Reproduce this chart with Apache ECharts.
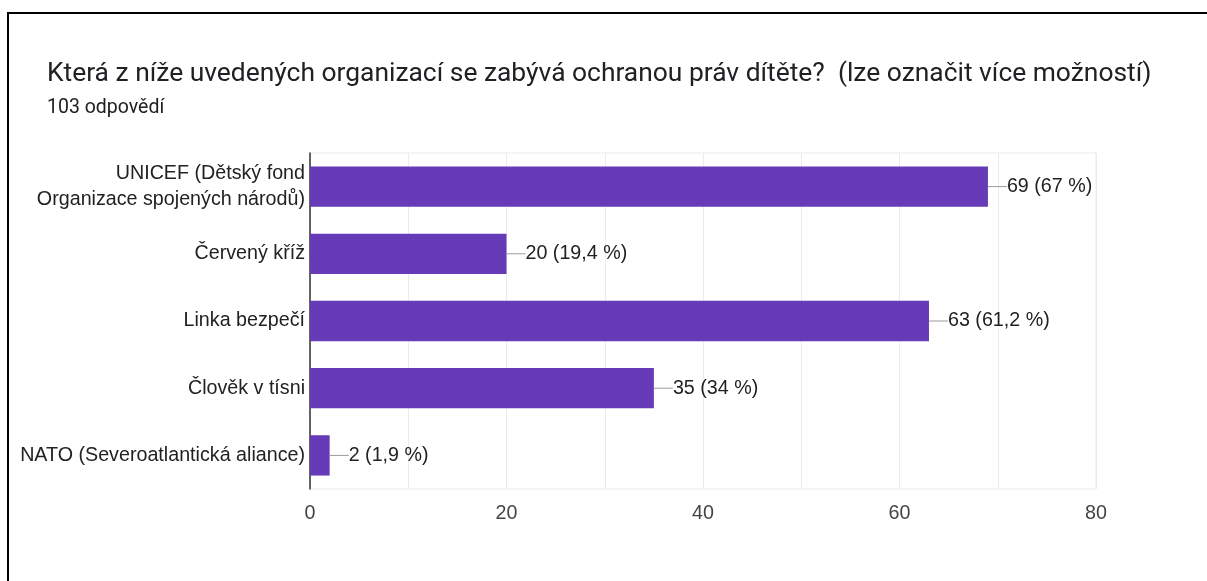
<!DOCTYPE html>
<html>
<head>
<meta charset="utf-8">
<script src="https://cdn.jsdelivr.net/npm/echarts@6/dist/echarts.min.js"></script>
<style>
html,body{margin:0;padding:0;background:#fff;}
#c{width:1207px;height:581px;}
</style>
</head>
<body>
<div id="c"></div>
<script>
const categories = [
  'UNICEF (Dětský fond\nOrganizace spojených národů)',
  'Červený kříž',
  'Linka bezpečí',
  'Člověk v tísni',
  'NATO (Severoatlantická aliance)'
];
const counts = [69, 20, 63, 35, 2];
const percents = ['67 %', '19,4 %', '61,2 %', '34 %', '1,9 %'];
const xTicks = [0, 20, 40, 60, 80];

const titleFont = 'Roboto, "Noto Sans", sans-serif';
const font = '"Liberation Sans", Arial, sans-serif';
const fs = 19.7;
const chart = echarts.init(document.getElementById('c'), null, {renderer: 'canvas'});
chart.setOption({
  backgroundColor: '#fff',
  animation: false,
  textStyle: {fontFamily: font},
  title: [
    {text: 'Která z níže uvedených organizací se zabývá ochranou práv dítěte?  (lze označit více možností)',
     left: 42, top: 56,
     textStyle: {fontFamily: titleFont, fontSize: 26.4, fontWeight: 'normal', color: '#202124'}},
    {text: '103 odpovědí', left: 42, top: 93,
     textStyle: {fontFamily: titleFont, fontSize: 19.5, fontWeight: 'normal', color: '#202124'}}
  ],
  graphic: [
    {type: 'rect', shape: {x: 7, y: 12, width: 2, height: 569}, style: {fill: '#000'}},
    {type: 'rect', shape: {x: 7, y: 12, width: 1200, height: 2}, style: {fill: '#000'}}
  ],
  grid: {left: 310, right: 111, top: 153, bottom: 92, show: true, borderColor: '#ebebeb', borderWidth: 1},
  xAxis: {
    type: 'value', min: 0, max: 80, interval: 10,
    axisLine: {show: false}, axisTick: {show: false},
    splitLine: {lineStyle: {color: '#ebebeb', width: 1}},
    axisLabel: {
      margin: 15, fontSize: fs, color: '#444', fontFamily: font,
      formatter: v => xTicks.includes(v) ? String(v) : ''
    }
  },
  yAxis: {
    type: 'category', data: categories, inverse: true,
    axisLine: {show: true, lineStyle: {color: '#333', width: 1.5}},
    axisTick: {show: false},
    axisLabel: {margin: 5, fontSize: fs, color: '#222', fontFamily: font, lineHeight: 26, align: 'right', padding: [4, 0, 0, 0]}
  },
  series: [{
    type: 'bar', data: counts, barCategoryGap: '40%',
    itemStyle: {color: '#673ab7'},
    label: {
      show: true, position: 'right', distance: 0,
      formatter: p => '{ln|}{t|' + p.value + ' (' + percents[p.dataIndex] + ')}',
      rich: {
        ln: {width: 19, height: 1, backgroundColor: '#9a9a9a', verticalAlign: 'middle'},
        t: {fontSize: fs, color: '#222', fontFamily: font, verticalAlign: 'middle'}
      }
    }
  }]
});
</script>
</body>
</html>
